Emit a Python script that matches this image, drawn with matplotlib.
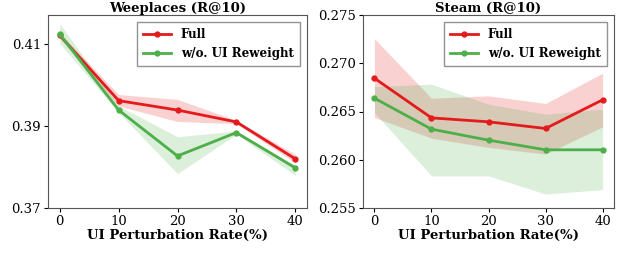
import matplotlib
matplotlib.use('Agg')
import matplotlib.pyplot as plt
import numpy as np

# perturbation rates (%)
rates = [0, 10, 20, 30, 40]

# Weeplaces R@10
wp_full = [0.4121, 0.3962, 0.3939, 0.3910, 0.3820]
wp_full_lo = [0.4115, 0.3949, 0.3911, 0.3906, 0.3810]
wp_full_hi = [0.4127, 0.3977, 0.3965, 0.3914, 0.3831]
wp_wo = [0.4124, 0.3939, 0.3827, 0.3884, 0.3798]
wp_wo_lo = [0.4102, 0.3933, 0.3784, 0.3880, 0.3780]
wp_wo_hi = [0.4150, 0.3949, 0.3874, 0.3888, 0.3804]

# Steam R@10
st_full = [0.26845, 0.26434, 0.26393, 0.26324, 0.26621]
st_full_lo = [0.26438, 0.26224, 0.26128, 0.26059, 0.26341]
st_full_hi = [0.27255, 0.26638, 0.26662, 0.26583, 0.26897]
st_wo = [0.26638, 0.26317, 0.26203, 0.26103, 0.26103]
st_wo_lo = [0.26490, 0.25833, 0.25833, 0.25645, 0.25690]
st_wo_hi = [0.26759, 0.26783, 0.26576, 0.26472, 0.26524]

red = '#e41a1c'
green = '#4daf4a'

plt.rcParams['font.family'] = 'DejaVu Serif'

fig = plt.figure(figsize=(6.25, 2.54), dpi=100)
W, H = 625.0, 254.0
ax1 = fig.add_axes([48 / W, 46 / H, 259 / W, 193 / H])
ax2 = fig.add_axes([363 / W, 46 / H, 251 / W, 193 / H])


def draw(ax, full, full_lo, full_hi, wo, wo_lo, wo_hi, title):
    ax.plot(rates, full, color=red, marker='o', markersize=3.5, lw=2, label='Full')
    ax.fill_between(rates, full_lo, full_hi, color=red, alpha=0.2, lw=0)
    ax.plot(rates, wo, color=green, marker='o', markersize=3.5, lw=2, label='w/o. UI Reweight')
    ax.fill_between(rates, wo_lo, wo_hi, color=green, alpha=0.2, lw=0)
    ax.set_title(title, fontsize=9.5, fontweight='bold', pad=2)
    ax.set_xlabel('UI Perturbation Rate(%)', fontsize=9.5, fontweight='bold', labelpad=1)
    ax.set_xticks(rates)
    ax.tick_params(labelsize=9.5, length=3, pad=2)
    leg = ax.legend(loc='upper right', prop={'weight': 'bold', 'size': 8.6},
                    fancybox=False, handlelength=2.4, borderpad=0.5, labelspacing=0.5,
                    borderaxespad=0.6)
    leg.get_frame().set_edgecolor('#777777')
    for s in ax.spines.values():
        s.set_color('#555555')


draw(ax1, wp_full, wp_full_lo, wp_full_hi, wp_wo, wp_wo_lo, wp_wo_hi, 'Weeplaces (R@10)')
ax1.set_ylim(0.37, 0.4171)
ax1.set_yticks([0.37, 0.39, 0.41])
ax1.set_yticklabels(['0.37', '0.39', '0.41'])

draw(ax2, st_full, st_full_lo, st_full_hi, st_wo, st_wo_lo, st_wo_hi, 'Steam (R@10)')
ax2.set_ylim(0.255, 0.275)
ax2.set_yticks([0.255, 0.260, 0.265, 0.270, 0.275])
ax2.set_yticklabels(['0.255', '0.260', '0.265', '0.270', '0.275'])

fig.savefig('out.png', dpi=100)
